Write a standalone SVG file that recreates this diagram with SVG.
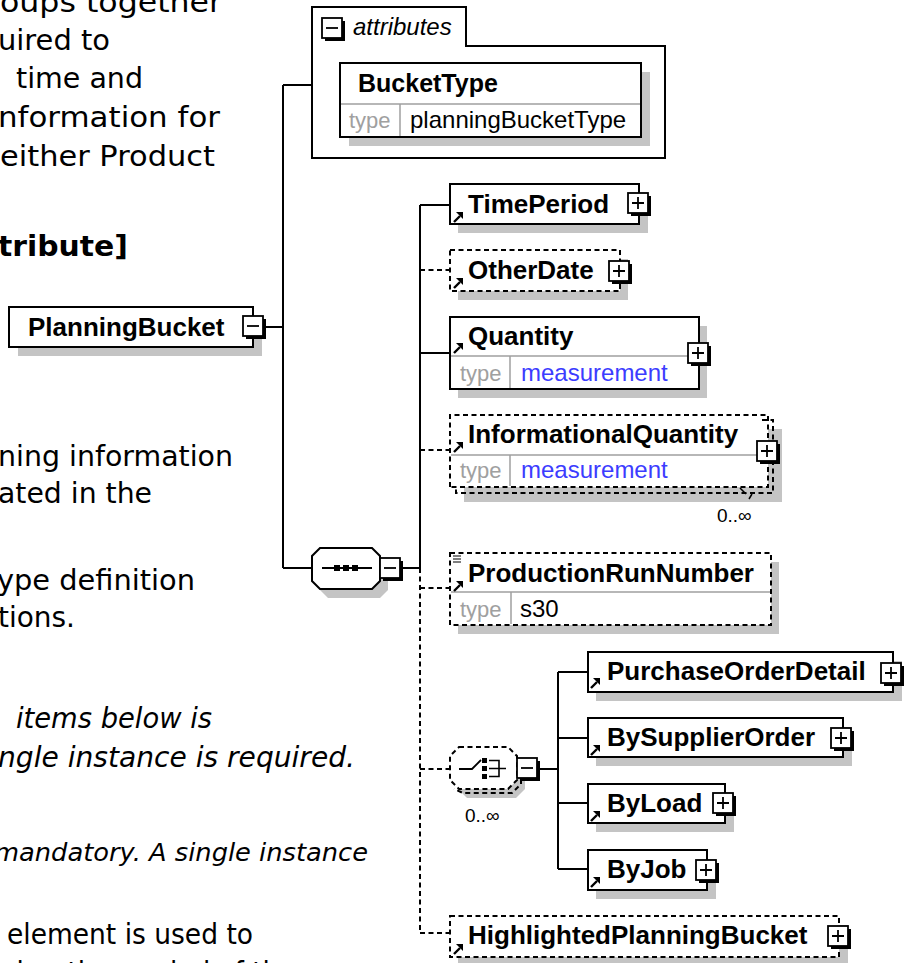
<svg xmlns="http://www.w3.org/2000/svg" xmlns:xlink="http://www.w3.org/1999/xlink" width="907" height="963" viewBox="0 0 907 963">
<style>
.t{font-family:"DejaVu Sans",Verdana,sans-serif;font-size:29px;fill:#000}
.ti{font-style:italic}
.tb{font-weight:bold}
.n{font-family:"Liberation Sans",Arial,sans-serif;font-weight:bold;font-size:26px;fill:#000}
.ty{font-family:"Liberation Sans",Arial,sans-serif;font-size:22px;fill:#a0a0a0}
.tv{font-family:"Liberation Sans",Arial,sans-serif;font-size:24px;fill:#000}
.blue{fill:#3c3cff}
.box{fill:#fff;stroke:#000;stroke-width:2}
.dash{stroke-dasharray:5 3.5}
.sh{fill:#c4c4c4}
.c{fill:none;stroke:#000;stroke-width:2}
.sep{stroke:#a0a0a0;stroke-width:1.5;fill:none}
.occ{font-family:"Liberation Sans",Arial,sans-serif;font-size:19px;fill:#000}
</style>
<defs>
<g id="plus"><rect x="3" y="3" width="20" height="20" fill="#000"/><rect x="0" y="0" width="20" height="20" fill="#fff" stroke="#000" stroke-width="1.8"/><path d="M4,10 H16 M10,4 V16" stroke="#000" stroke-width="1.8"/></g>
<g id="minus"><rect x="3" y="3" width="20" height="20" fill="#000"/><rect x="0" y="0" width="20" height="20" fill="#fff" stroke="#000" stroke-width="1.8"/><path d="M4,10 H16" stroke="#000" stroke-width="1.8"/></g>
<g id="ra"><path d="M1,11 L7,5" stroke="#000" stroke-width="2.4"/><path d="M3,1 H10 V8 Z" fill="#000"/></g>
</defs>

<g id="page-text">
<text class="t" x="0" y="12" textLength="222" lengthAdjust="spacingAndGlyphs">oups together</text>
<text class="t" x="-2" y="50" textLength="112" lengthAdjust="spacingAndGlyphs">uired to</text>
<text class="t" x="16" y="88" textLength="127" lengthAdjust="spacingAndGlyphs">time and</text>
<text class="t" x="-2" y="127" textLength="222" lengthAdjust="spacingAndGlyphs">nformation for</text>
<text class="t" x="0" y="166" textLength="215" lengthAdjust="spacingAndGlyphs">either Product</text>
<text class="t tb" x="-2" y="256" textLength="130" lengthAdjust="spacingAndGlyphs">tribute]</text>
<text class="t" x="-2" y="466" textLength="235" lengthAdjust="spacingAndGlyphs">ning information</text>
<text class="t" x="-2" y="503" textLength="154" lengthAdjust="spacingAndGlyphs">ated in the</text>
<text class="t" x="-3" y="590" textLength="198" lengthAdjust="spacingAndGlyphs">ype definition</text>
<text class="t" x="-2" y="627" textLength="77" lengthAdjust="spacingAndGlyphs">tions.</text>
<text class="t ti" x="16" y="728" textLength="196" lengthAdjust="spacingAndGlyphs">items below is</text>
<text class="t ti" x="-2" y="767" textLength="357" lengthAdjust="spacingAndGlyphs">ngle instance is required.</text>
<text class="t ti" x="-6" y="861" textLength="374" lengthAdjust="spacingAndGlyphs" style="font-size:25px">mandatory. A single instance</text>
<text class="t" x="7" y="944" textLength="246" lengthAdjust="spacingAndGlyphs">element is used to</text>
<text class="t" x="7" y="982" textLength="343" lengthAdjust="spacingAndGlyphs">duration period of time as</text>
</g>

<g id="connectors">
<path class="c" d="M265,327 H283 M283,85 V568 M283,85 H312 M283,568 H312"/>
<path class="c" d="M403,568 H420 M420,205 V568"/>
<path class="c dash" d="M420,568 V933"/>
<path class="c" d="M420,205 H450 M420,353 H450"/>
<path class="c dash" d="M420,270 H450 M420,450 H450 M420,588 H450 M420,769 H450 M420,933 H450"/>
<path class="c" d="M540,769 H558 M558,672 V869 M558,672 H588 M558,738 H588 M558,803 H588 M558,869 H588"/>
</g>

<g id="attributes">
<path class="box" d="M312,158 V7 H466 V46 H665 V158 Z"/>
<use xlink:href="#minus" x="322" y="18"/>
<text class="n" x="353" y="35" style="font-weight:normal;font-style:italic;font-size:24px">attributes</text>
<g id="BucketType">
<rect class="sh" x="349" y="72" width="301" height="74"/>
<rect class="box" x="340" y="63" width="301" height="74"/>
<path class="sep" d="M341,104 H640 M400,104 V136"/>
<text class="n" x="358" y="92" style="font-size:25px">BucketType</text>
<text class="ty" x="349" y="128">type</text>
<text class="tv" x="410" y="128">planningBucketType</text>
</g>
</g>

<g id="PlanningBucket">
<rect class="sh" x="18" y="316" width="244" height="40"/>
<rect class="box" x="9" y="307" width="244" height="40"/>
<text class="n" x="28" y="336">PlanningBucket</text>
<use xlink:href="#minus" x="243" y="316"/>
</g>

<g id="sequence">
<polygon class="sh" points="328,557 380,557 388,565 388,590 380,598 328,598 320,590 320,565"/>
<polygon class="box" points="320,548 372,548 380,556 380,581 372,589 320,589 312,581 312,556"/>
<path d="M322,568 H372" stroke="#000" stroke-width="1.8"/>
<rect x="334" y="565" width="6" height="6"/><rect x="343" y="565" width="6" height="6"/><rect x="352" y="565" width="6" height="6"/>
<use xlink:href="#minus" x="380" y="558"/>
</g>

<g id="TimePeriod">
<rect class="sh" x="458" y="193" width="190" height="40"/>
<rect class="box" x="450" y="184" width="189" height="40"/>
<use xlink:href="#ra" x="453" y="211"/>
<text class="n" x="468" y="213">TimePeriod</text>
<use xlink:href="#plus" x="628" y="193"/>
</g>

<g id="OtherDate">
<rect class="sh" x="458" y="259" width="170" height="41"/>
<rect class="box dash" x="450" y="250" width="170" height="41"/>
<use xlink:href="#ra" x="453" y="277"/>
<text class="n" x="468" y="279">OtherDate</text>
<use xlink:href="#plus" x="609" y="261"/>
</g>

<g id="Quantity">
<rect class="sh" x="458" y="326" width="249" height="72"/>
<rect class="box" x="450" y="317" width="249" height="72"/>
<path class="sep" d="M451,356 H698 M510,356 V388"/>
<use xlink:href="#ra" x="453" y="342"/>
<text class="n" x="468" y="345">Quantity</text>
<text class="ty" x="460" y="381">type</text>
<text class="tv blue" x="521" y="381">measurement</text>
<use xlink:href="#plus" x="688" y="343"/>
</g>

<g id="InformationalQuantity">
<rect class="sh" x="464" y="429" width="318" height="73"/>
<path class="box dash" d="M450,487 V415 H768 V487 Z"/>
<path class="c dash" d="M762,420 H773 V493 H456 V487"/>
<path d="M740,488 L746,494 M752,494 L749,499" stroke="#000" stroke-width="1.5" fill="none"/>
<path class="sep" d="M451,455 H767 M510,455 V486"/>
<use xlink:href="#ra" x="453" y="441"/>
<text class="n" x="468" y="443">InformationalQuantity</text>
<text class="ty" x="460" y="478">type</text>
<text class="tv blue" x="521" y="478">measurement</text>
<use xlink:href="#plus" x="757" y="441"/>
<text class="occ" x="717" y="522">0..∞</text>
</g>

<g id="ProductionRunNumber">
<rect class="sh" x="458" y="562" width="321" height="72"/>
<rect class="box dash" x="450" y="553" width="321" height="72"/>
<path class="sep" d="M451,592 H770 M511,592 V624"/>
<path d="M453,556 H461 M453,559 H461 M453,562 H461" stroke="#000" stroke-width="1.2"/>
<use xlink:href="#ra" x="453" y="580"/>
<text class="n" x="468" y="582">ProductionRunNumber</text>
<text class="ty" x="460" y="617">type</text>
<text class="tv" x="520" y="617">s30</text>
</g>

<g id="choice">
<polygon class="sh" points="467,756 516,756 525,765 525,789 516,798 467,798 458,789 458,765"/>
<polygon class="box dash" points="459,747 508,747 517,756 517,780 508,789 459,789 450,780 450,756"/>
<path class="c dash" d="M521,762 V784 L512,793 H463 L454,789"/>
<path d="M459,769 H472 L481,760" stroke="#000" stroke-width="1.8" fill="none"/>
<rect x="482" y="758" width="5" height="5"/><rect x="482" y="766" width="5" height="5"/><rect x="482" y="774" width="5" height="5"/>
<path d="M489,760.5 H499 V776.5 H489 M489,768.5 H506" stroke="#000" stroke-width="1.6" fill="none"/>
<use xlink:href="#minus" x="517" y="758"/>
<text class="occ" x="465" y="822">0..∞</text>
</g>

<g id="PurchaseOrderDetail">
<rect class="sh" x="596" y="661" width="306" height="40"/>
<rect class="box" x="588" y="652" width="305" height="40"/>
<use xlink:href="#ra" x="590" y="677"/>
<text class="n" x="607" y="680">PurchaseOrderDetail</text>
<use xlink:href="#plus" x="881" y="663"/>
</g>

<g id="BySupplierOrder">
<rect class="sh" x="596" y="727" width="256" height="39"/>
<rect class="box" x="588" y="718" width="255" height="39"/>
<use xlink:href="#ra" x="590" y="744"/>
<text class="n" x="607" y="746">BySupplierOrder</text>
<use xlink:href="#plus" x="831" y="728"/>
</g>

<g id="ByLoad">
<rect class="sh" x="596" y="793" width="138" height="39"/>
<rect class="box" x="588" y="784" width="137" height="39"/>
<use xlink:href="#ra" x="590" y="810"/>
<text class="n" x="607" y="812">ByLoad</text>
<use xlink:href="#plus" x="713" y="793"/>
</g>

<g id="ByJob">
<rect class="sh" x="596" y="859" width="120" height="40"/>
<rect class="box" x="588" y="850" width="119" height="40"/>
<use xlink:href="#ra" x="590" y="876"/>
<text class="n" x="607" y="878">ByJob</text>
<use xlink:href="#plus" x="696" y="860"/>
</g>

<g id="HighlightedPlanningBucket">
<rect class="sh" x="458" y="925" width="390" height="41"/>
<rect class="box dash" x="450" y="916" width="389" height="41"/>
<use xlink:href="#ra" x="453" y="943"/>
<text class="n" x="468" y="944">HighlightedPlanningBucket</text>
<use xlink:href="#plus" x="828" y="926"/>
</g>
</svg>
